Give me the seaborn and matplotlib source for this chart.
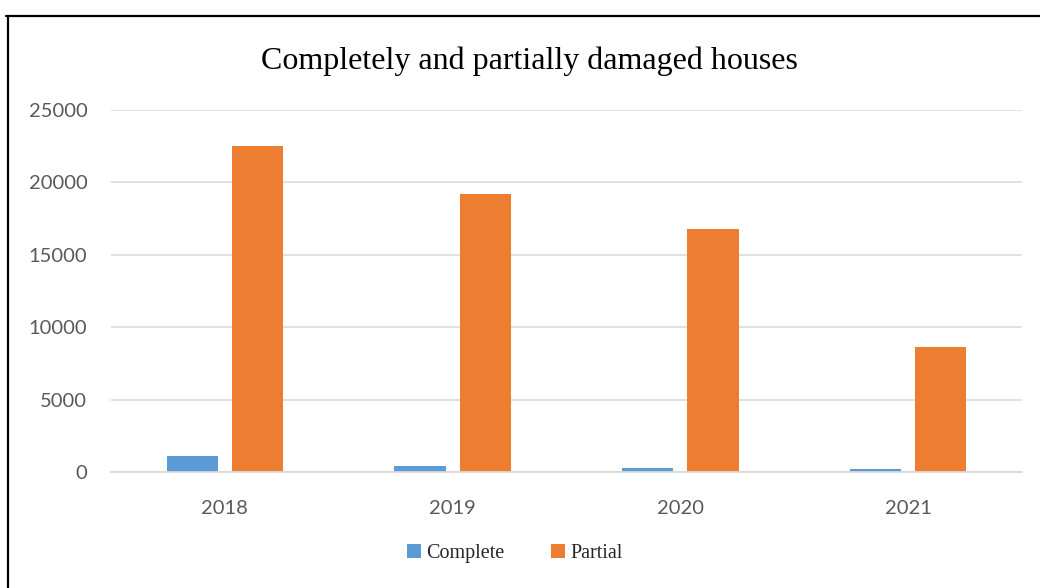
import matplotlib
matplotlib.use("Agg")
import matplotlib.pyplot as plt
from matplotlib.lines import Line2D
from matplotlib.patches import Patch
import seaborn as sns
import pandas as pd

years = ["2018", "2019", "2020", "2021"]
complete = [1100, 430, 300, 230]
partial = [22500, 19200, 16800, 8650]
series = ["Complete", "Partial"]
colors = ["#5B9BD5", "#ED7D31"]
yticks = [0, 5000, 10000, 15000, 20000, 25000]

df = pd.DataFrame({
    "year": years * 2,
    "kind": [series[0]] * len(years) + [series[1]] * len(years),
    "count": complete + partial,
})

sns.set_theme(style="white")
plt.rcParams["font.family"] = ["Lato", "DejaVu Sans"]

fig = plt.figure(figsize=(10.4, 5.88), dpi=100)
ax = fig.add_axes([0.1067, 0.1973, 0.876, 0.6156])

sns.barplot(data=df, x="year", y="count", hue="kind", order=years,
            hue_order=series, palette=colors, saturation=1,
            width=0.573, gap=0.215, linewidth=0, legend=False, ax=ax)

ax.set_xlim(-0.5, len(years) - 0.5)
ax.set_ylim(0, 25000)
ax.set_yticks(yticks)
ax.set_yticklabels([str(v) for v in yticks])
ax.yaxis.grid(True, color="#D9D9D9", linewidth=1.1)
ax.set_axisbelow(True)
ax.set_xlabel("")
ax.set_ylabel("")
for s in ["left", "right", "top"]:
    ax.spines[s].set_visible(False)
ax.spines["bottom"].set_color("#D9D9D9")
ax.spines["bottom"].set_linewidth(1.3)
ax.tick_params(axis="both", length=0, labelsize=14.5, labelcolor="#595959")
ax.tick_params(axis="x", pad=20)
ax.tick_params(axis="y", pad=17)

fig.text(0.509, 0.895, "Completely and partially damaged houses",
         ha="center", va="center", fontsize=23,
         family=["Liberation Serif", "DejaVu Serif"], color="#000000")

handles = [Patch(facecolor=c, edgecolor="none") for c in colors]
fig.legend(handles, series, loc="center", bbox_to_anchor=(0.495, 0.058),
           ncol=2, frameon=False, handlelength=0.7, handleheight=0.7,
           handletextpad=0.25, columnspacing=2.35,
           prop={"family": ["Liberation Serif", "DejaVu Serif"], "size": 14.5})

# frame lines along the top and left edge of the figure
fig.add_artist(Line2D([0.006, 1.0], [0.973, 0.973], transform=fig.transFigure,
                      color="#000000", linewidth=1.6))
fig.add_artist(Line2D([0.008, 0.008], [0.0, 0.973], transform=fig.transFigure,
                      color="#000000", linewidth=1.6))

fig.savefig("out.png", dpi=100)
